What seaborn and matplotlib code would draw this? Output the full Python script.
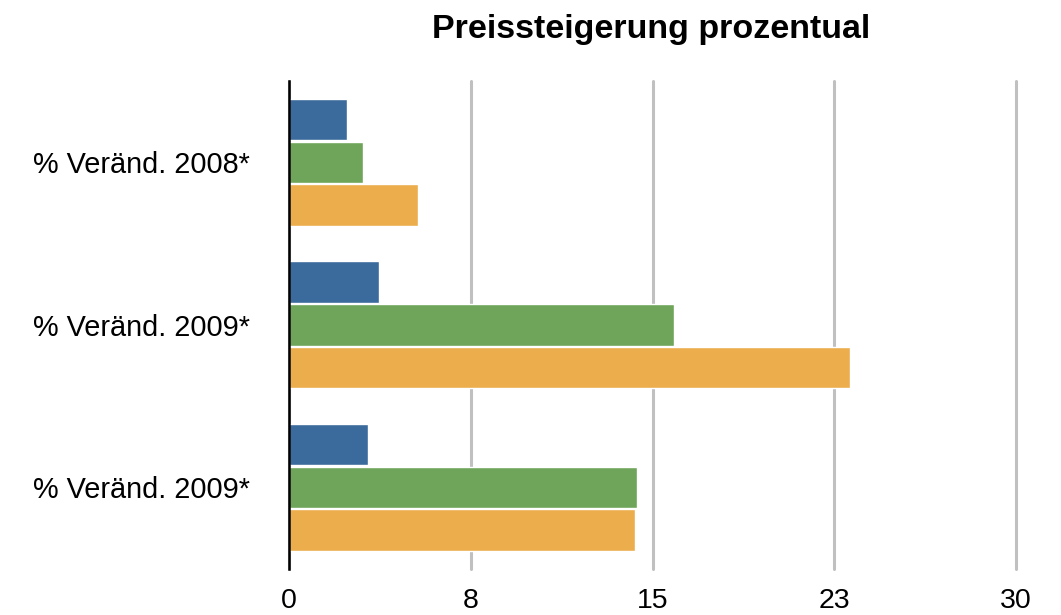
import matplotlib
matplotlib.use("Agg")
import matplotlib.pyplot as plt
import pandas as pd
import seaborn as sns

# data
row_labels = ["% Veränd. 2008*", "% Veränd. 2009*", "% Veränd. 2009*"]
series_names = ["Reihe 1", "Reihe 2", "Reihe 3"]
reihe1 = [2.38, 3.72, 3.24]
reihe2 = [3.04, 15.9, 14.35]
reihe3 = [5.34, 23.14, 14.26]
x_ticks = [0, 7.5, 15, 22.5, 30]
x_tick_labels = ["0", "8", "15", "23", "30"]
colors = ["#3b6b9c", "#6ea55a", "#ecae4c"]

rows = []
for i, lab in enumerate(row_labels):
    for name, vals in zip(series_names, [reihe1, reihe2, reihe3]):
        rows.append({"row": str(i), "series": name, "value": vals[i]})
df = pd.DataFrame(rows)

sns.set_style("white")
plt.rcParams["font.family"] = ["Liberation Sans", "DejaVu Sans"]
plt.rcParams["text.color"] = "black"
plt.rcParams["xtick.color"] = "black"
plt.rcParams["ytick.color"] = "black"

fig = plt.figure(figsize=(10.61, 6.15), dpi=100)
ax = fig.add_axes([0.2724, 0.0756, 0.6852, 0.7924])

sns.barplot(data=df, x="value", y="row", hue="series", hue_order=series_names,
            palette=colors, orient="h", width=0.79, gap=0.03,
            saturation=1, legend=False, ax=ax)

ax.set_xlim(0, 30)
ax.set_ylim(2.5, -0.5)
ax.set_xticks(x_ticks)
ax.set_xticklabels(x_tick_labels, fontsize=20.5)
ax.set_yticks(range(len(row_labels)))
ax.set_yticklabels(row_labels, fontsize=20.8)
ax.tick_params(axis="both", length=0)
ax.tick_params(axis="y", pad=28)
ax.tick_params(axis="x", pad=14)
ax.set_xlabel("")
ax.set_ylabel("")

ax.grid(axis="x", color="#c0c0c0", linewidth=2.2)
for gl in ax.get_xgridlines():
    gl.set_clip_on(False)
ax.set_axisbelow(True)
for s in ["top", "right", "bottom"]:
    ax.spines[s].set_visible(False)
ax.spines["left"].set_color("black")
ax.spines["left"].set_linewidth(1.8)
ax.spines["left"].set_zorder(5)

fig.text(0.614, 0.952, "Preissteigerung prozentual", ha="center", va="center",
         fontsize=24.5, fontweight="bold")

fig.savefig("out.png", dpi=100)
